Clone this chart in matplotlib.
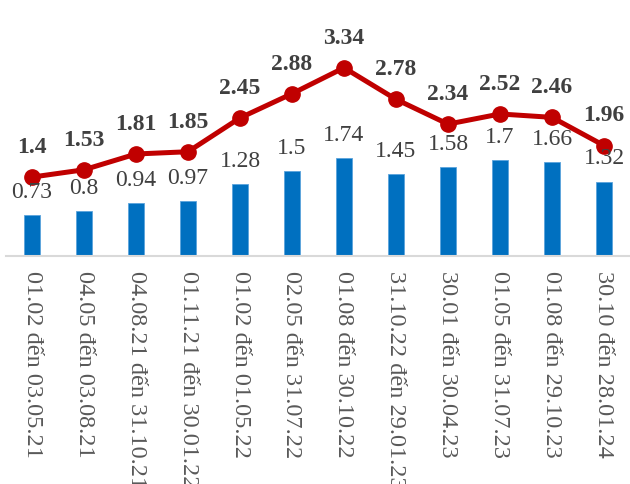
import matplotlib.pyplot as plt

plt.rcParams['font.family'] = ['Liberation Serif', 'DejaVu Serif']

# Dữ liệu
periods = ["01.02 đến 03.05.21", "04.05 đến 03.08.21", "04.08.21 đến 31.10.21",
           "01.11.21 đến 30.01.22", "01.02 đến 01.05.22", "02.05 đến 31.07.22",
           "01.08 đến 30.10.22", "31.10.22 đến 29.01.23", "30.01 đến 30.04.23",
           "01.05 đến 31.07.23", "01.08 đến 29.10.23", "30.10 đến 28.01.24"]
bar_values = [0.73, 0.8, 0.94, 0.97, 1.28, 1.5, 1.74, 1.45, 1.58, 1.7, 1.66, 1.32]
line_values = [1.4, 1.53, 1.81, 1.85, 2.45, 2.88, 3.34, 2.78, 2.34, 2.52, 2.46, 1.96]

fig = plt.figure(figsize=(6.3, 4.85), dpi=100)
ax = fig.add_axes([6 / 630, 1 - 257 / 485, 624 / 630, 257 / 485])

x = list(range(len(periods)))
ax.bar(x, bar_values, width=0.32, color='#0070C0', edgecolor='#5BA3DC', linewidth=0.6, zorder=2)
ax.plot(x, line_values, color='#C00000', linewidth=3.6, marker='o', markersize=11, zorder=3)

for xi, v in zip(x, bar_values):
    ax.annotate(f"{v:g}", (xi, v), xytext=(0, 17), textcoords='offset points',
                ha='center', va='center', fontsize=17, color='#404040', zorder=4)
for xi, v in zip(x, line_values):
    ax.annotate(f"{v:g}", (xi, v), xytext=(0, 22), textcoords='offset points',
                ha='center', va='center', fontsize=17, fontweight='bold', color='#404040', zorder=4)

ax.set_xlim(-0.5, len(periods) - 0.5)
ax.set_ylim(0, 4.56)
ax.set_yticks([])
ax.set_xticks(x)
ax.set_xticklabels(periods, rotation=-90, fontsize=17.5, color='#595959')
ax.tick_params(axis='x', length=0, pad=10)
for s in ['top', 'right', 'left']:
    ax.spines[s].set_visible(False)
ax.spines['bottom'].set_color('#D9D9D9')
ax.spines['bottom'].set_linewidth(1.5)
ax.patch.set_alpha(0)

fig.savefig('out.png', dpi=100)
